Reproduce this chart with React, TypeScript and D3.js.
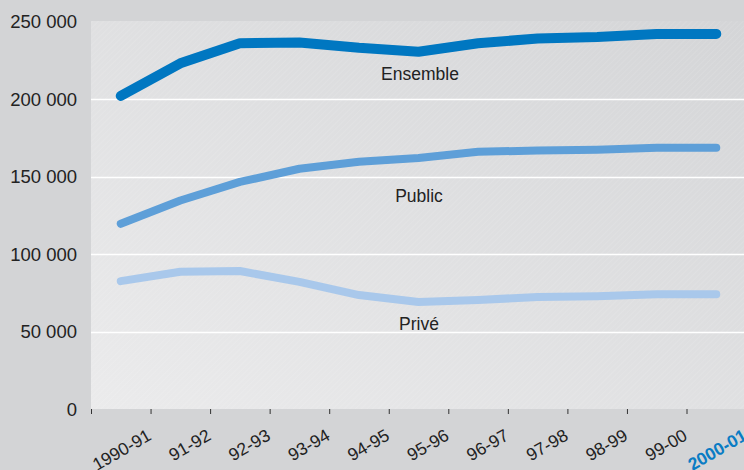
import { useEffect, useRef } from 'react';
import * as d3 from 'd3';

const seasons = ['1990-91', '91-92', '92-93', '93-94', '94-95', '95-96', '96-97', '97-98', '98-99', '99-00', '2000-01'];
const ensemble = [202000, 223000, 236000, 236500, 233000, 230500, 236000, 239000, 240000, 242000, 242000];
const publicSeries = [119500, 134500, 146500, 155000, 159500, 162000, 166000, 166700, 167300, 168500, 168500];
const prive = [82500, 88500, 89000, 82000, 73500, 69000, 70300, 72300, 72800, 74000, 74000];
const yTicks = [0, 50000, 100000, 150000, 200000, 250000];

const series = [
  { name: 'Ensemble', values: ensemble, color: '#0077c1', width: 10, label: [420, 80] },
  { name: 'Public', values: publicSeries, color: '#5e9fd8', width: 8, label: [419, 202] },
  { name: 'Privé', values: prive, color: '#a9c8eb', width: 8, label: [419, 330] },
];

const FONT = "'Liberation Sans', Arial, sans-serif";

export default function App() {
  const svgRef = useRef<SVGSVGElement>(null);

  useEffect(() => {
    if (!svgRef.current) return;
    const width = 744;
    const height = 470;
    const left = 91;
    const top = 21;
    const bottom = 409;

    const svg = d3.select(svgRef.current);
    svg.selectAll('*').remove();
    svg.attr('width', width).attr('height', height);

    const defs = svg.append('defs');
    const grad = defs
      .append('linearGradient')
      .attr('id', 'panelGrad')
      .attr('x1', '0%')
      .attr('y1', '100%')
      .attr('x2', '100%')
      .attr('y2', '0%');
    grad.append('stop').attr('offset', '0%').attr('stop-color', '#ebebec');
    grad.append('stop').attr('offset', '100%').attr('stop-color', '#d4d5d7');

    const pat = defs
      .append('pattern')
      .attr('id', 'hatch')
      .attr('width', 4)
      .attr('height', 4)
      .attr('patternUnits', 'userSpaceOnUse')
      .attr('patternTransform', 'rotate(45)');
    pat.append('line').attr('x1', 0).attr('y1', 0).attr('x2', 0).attr('y2', 4).attr('stroke', '#ffffff').attr('stroke-opacity', 0.18).attr('stroke-width', 1);

    svg.append('rect').attr('width', width).attr('height', height).attr('fill', '#d3d4d6');

    const x = d3.scaleBand<string>().domain(seasons).range([left, left + 59.55 * seasons.length]);
    const y = d3.scaleLinear().domain([0, 250000]).range([bottom, top + 0.5]);

    svg.append('rect').attr('x', left).attr('y', top).attr('width', width - left).attr('height', bottom - top).attr('fill', 'url(#panelGrad)');
    svg.append('rect').attr('x', left).attr('y', top).attr('width', width - left).attr('height', bottom - top).attr('fill', 'url(#hatch)');

    // gridlines
    svg
      .append('g')
      .selectAll('line')
      .data(yTicks.filter((t) => t > 0 && t < 250000))
      .enter()
      .append('line')
      .attr('x1', left)
      .attr('x2', width)
      .attr('y1', (d) => Math.round(y(d)) + 0.5)
      .attr('y2', (d) => Math.round(y(d)) + 0.5)
      .attr('stroke', '#ffffff')
      .attr('stroke-width', 1.5);

    // y labels
    const fmt = (v: number) => d3.format(',')(v).replace(/,/g, ' ');
    svg
      .append('g')
      .selectAll('text')
      .data(yTicks)
      .enter()
      .append('text')
      .attr('x', 77)
      .attr('y', (d) => y(d) + 6.5)
      .attr('text-anchor', 'end')
      .attr('font-family', FONT)
      .attr('font-size', '18.5px')
      .attr('fill', '#222')
      .text((d) => fmt(d));

    // x ticks
    const tickPos = seasons.map((s) => x(s) as number);
    svg
      .append('g')
      .selectAll('line')
      .data(tickPos)
      .enter()
      .append('line')
      .attr('x1', (d) => d + 0.5)
      .attr('x2', (d) => d + 0.5)
      .attr('y1', bottom)
      .attr('y2', bottom + 5)
      .attr('stroke', '#333')
      .attr('stroke-width', 1);

    svg
      .append('g')
      .selectAll('text')
      .data(seasons)
      .enter()
      .append('text')
      .attr('transform', (d) => `translate(${(x(d) as number) + x.bandwidth() + 2}, 439) rotate(-30)`)
      .attr('text-anchor', 'end')
      .attr('font-family', FONT)
      .attr('font-size', '17.5px')
      .attr('font-weight', (d, i) => (i === seasons.length - 1 ? 700 : 400))
      .attr('fill', (d, i) => (i === seasons.length - 1 ? '#0a7cc4' : '#222'))
      .text((d) => d);

    const line = d3
      .line<number>()
      .x((_, i) => (x(seasons[i]) as number) + x.bandwidth() / 2)
      .y((d) => y(d));

    series.forEach((s) => {
      svg
        .append('path')
        .attr('d', line(s.values) || '')
        .attr('fill', 'none')
        .attr('stroke', s.color)
        .attr('stroke-width', s.width)
        .attr('stroke-linecap', 'round')
        .attr('stroke-linejoin', 'round');
      svg
        .append('text')
        .attr('x', s.label[0])
        .attr('y', s.label[1])
        .attr('text-anchor', 'middle')
        .attr('font-family', FONT)
        .attr('font-size', '17.5px')
        .attr('fill', '#222')
        .text(s.name);
    });
  }, []);

  return (
    <div style={{ position: 'fixed', left: 0, top: 0 }}>
      <svg ref={svgRef} style={{ display: 'block' }} />
    </div>
  );
}
